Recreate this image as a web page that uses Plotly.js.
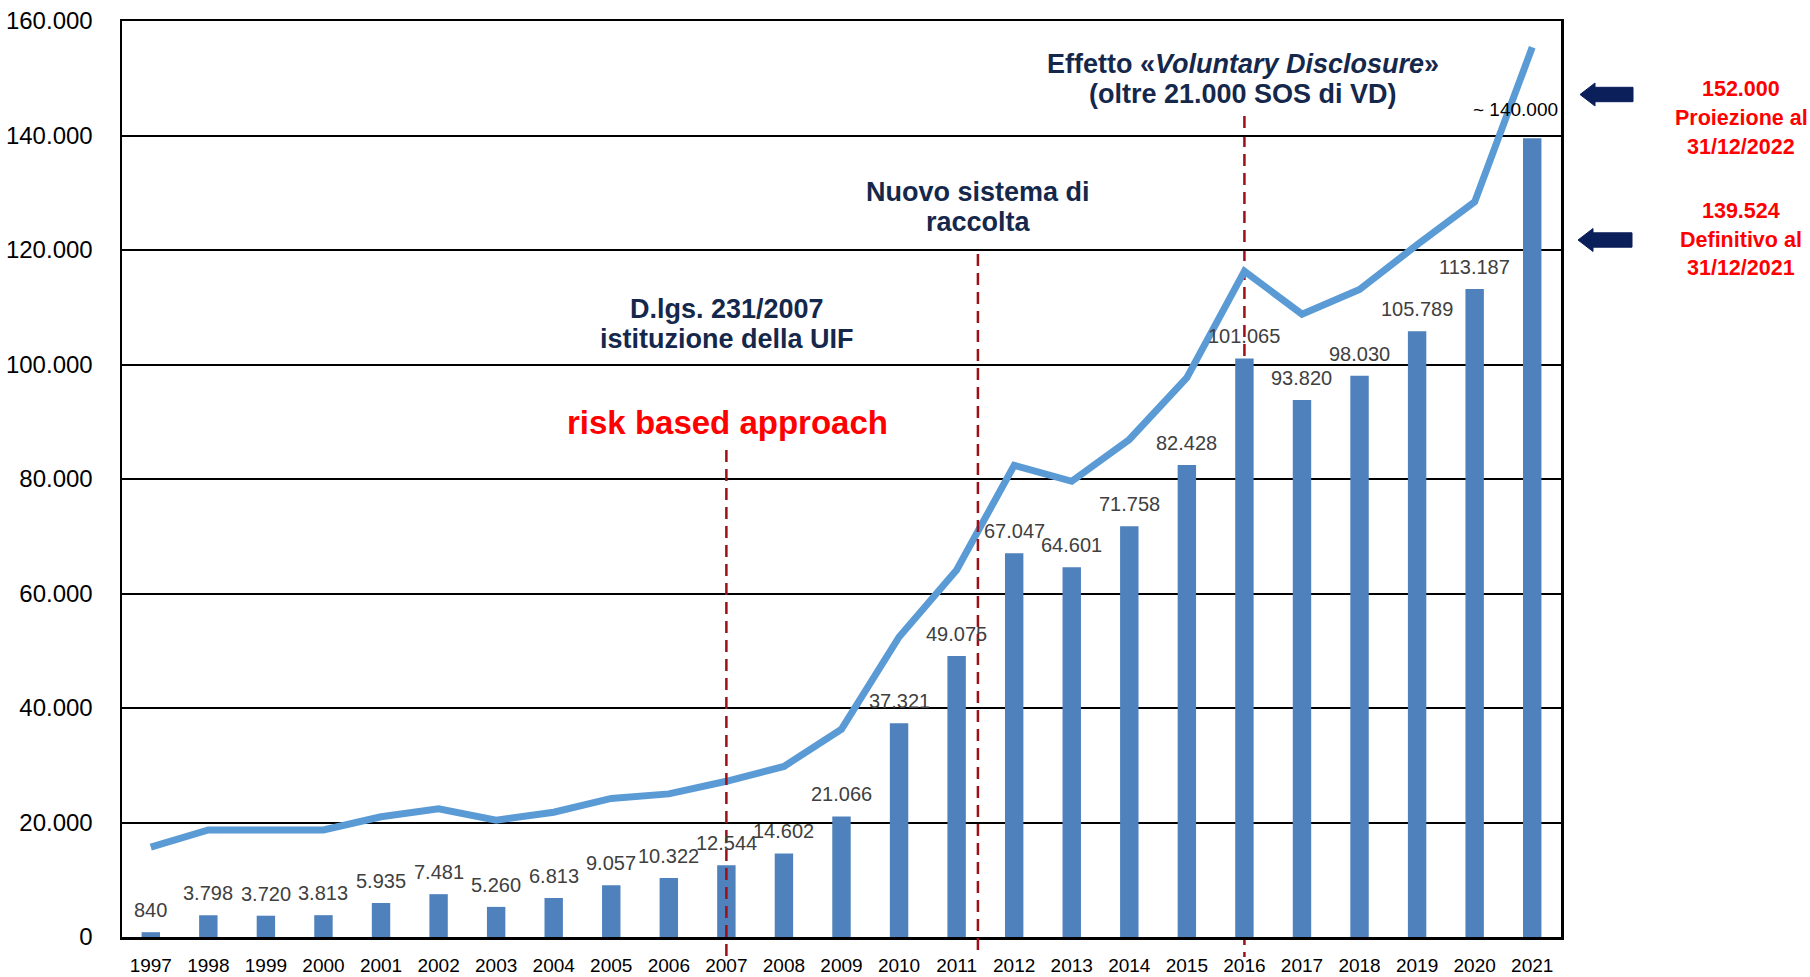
<!DOCTYPE html>
<html>
<head>
<meta charset="utf-8">
<script src="https://cdn.plot.ly/plotly-3.0.1.min.js"></script>
<style>
  html, body { margin: 0; padding: 0; background: #ffffff; }
  #chart { width: 1810px; height: 977px; }
</style>
</head>
<body>
<div id="chart"></div>
<script>
// ---------- data ----------
const years = ['1997','1998','1999','2000','2001','2002','2003','2004','2005','2006','2007','2008','2009',
               '2010','2011','2012','2013','2014','2015','2016','2017','2018','2019','2020','2021'];
const sosValues = [840, 3798, 3720, 3813, 5935, 7481, 5260, 6813, 9057, 10322, 12544, 14602, 21066,
                   37321, 49075, 67047, 64601, 71758, 82428, 101065, 93820, 98030, 105789, 113187, 139524];
const trendValues = [15700, 18700, 18700, 18700, 21000, 22400, 20400, 21800, 24200, 25000, 27200, 29800, 36300,
                     52400, 64100, 82400, 79600, 86900, 97700, 116300, 108800, 113100, 120900, 128400, 155400];
const yTicks = [0, 20000, 40000, 60000, 80000, 100000, 120000, 140000, 160000];
const approxLabel = '~ 140.000';
const projection = ['152.000', 'Proiezione al', '31/12/2022'];
const definitive = ['139.524', 'Definitivo al', '31/12/2021'];
const eventLines = [
  {x: 10, yTop: 450, layer: 'above'},      // 2007
  {x: 14.37, yTop: 254, layer: 'above'},   // between 2011 and 2012
  {x: 19, yTop: 116, layer: 'below'}       // 2016
];

// ---------- geometry helpers (pixel -> paper) ----------
const W = 1810, H = 977;
const M = {l: 122, r: 249, t: 21, b: 40};
const PW = W - M.l - M.r, PH = H - M.t - M.b;
const px = x => (x - M.l) / PW;
const py = y => (H - M.b - y) / PH;

function fmt(v) {
  return String(v).replace(/\B(?=(\d{3})+(?!\d))/g, '.');
}

const FONT = 'Liberation Sans, Arial, sans-serif';
const NAVY = '#15284b';

const barTrace = {
  type: 'bar', x: years, y: sosValues,
  marker: {color: '#4f81bd'},
  width: 0.32,
  hoverinfo: 'x+y'
};
const lineTrace = {
  type: 'scatter', mode: 'lines', x: years, y: trendValues,
  line: {color: '#5b9bd5', width: 7},
  hoverinfo: 'x+y'
};

const annotations = [];
// bar value labels (category index positions)
years.forEach((yr, i) => {
  if (i === years.length - 1) return;
  annotations.push({
    x: i, y: sosValues[i], xref: 'x', yref: 'y',
    text: fmt(sosValues[i]), showarrow: false,
    xanchor: 'center', yanchor: 'middle', yshift: 22,
    font: {family: FONT, size: 20, color: '#404040'}
  });
});
annotations.push({
  x: px(1515), y: py(110), xref: 'paper', yref: 'paper',
  text: approxLabel, showarrow: false, xanchor: 'center', yanchor: 'middle',
  font: {family: FONT, size: 19, color: '#000000'}
});
function textAt(text, x, y, size, color) {
  annotations.push({
    x: px(x), y: py(y), xref: 'paper', yref: 'paper',
    text: text, showarrow: false, xanchor: 'center', yanchor: 'middle',
    font: {family: FONT, size: size, color: color, weight: 'bold'}
  });
}
textAt('Effetto «<i>Voluntary Disclosure</i>»', 1243, 64, 27, NAVY);
textAt('(oltre 21.000 SOS di VD)', 1243, 94, 27, NAVY);
textAt('Nuovo sistema di', 978, 192, 27, NAVY);
textAt('raccolta', 978, 222, 27, NAVY);
textAt('D.lgs. 231/2007', 727, 309, 27, NAVY);
textAt('istituzione della UIF', 727, 339, 27, NAVY);
textAt('risk based approach', 727, 422, 33, '#ff0000');
const projY = [89, 118, 147];
projection.forEach((t, i) => textAt(t, 1741, projY[i], 21.5, '#ff0000'));
const defY = [211, 240, 268];
definitive.forEach((t, i) => textAt(t, 1741, defY[i], 21.5, '#ff0000'));

// shapes
const shapes = [];
eventLines.forEach(l => {
  shapes.push({
    type: 'line', xref: 'x', yref: 'paper',
    x0: l.x, x1: l.x, y0: py(l.yTop), y1: py(957),
    line: {color: '#9e0f18', width: 2.5, dash: '12px,7px'},
    layer: l.layer
  });
});
function arrow(tipX, tailX, cy) {
  const headLen = 15, headH = 11.5, shaftH = 7.2;
  const pts = [
    [tipX, cy], [tipX + headLen, cy - headH], [tipX + headLen, cy - shaftH],
    [tailX, cy - shaftH], [tailX, cy + shaftH], [tipX + headLen, cy + shaftH],
    [tipX + headLen, cy + headH]
  ];
  const path = 'M ' + pts.map(p => px(p[0]) + ',' + py(p[1])).join(' L ') + ' Z';
  shapes.push({type: 'path', xref: 'paper', yref: 'paper', path: path,
               fillcolor: '#0b1f5a', line: {color: '#0b1f5a', width: 1}});
}
arrow(1580, 1633, 94.5);
arrow(1578, 1632, 240);

const layout = {
  width: W, height: H,
  margin: M,
  paper_bgcolor: '#ffffff', plot_bgcolor: '#ffffff',
  showlegend: false,
  separators: ',.',
  bargap: 0.68,
  xaxis: {
    type: 'category', range: [-0.5, 24.5],
    showline: true, mirror: true, linecolor: '#000000', linewidth: 2.5,
    showgrid: false, ticks: '', ticklabelstandoff: 10,
    tickfont: {family: FONT, size: 19, color: '#000000'},
    fixedrange: true
  },
  yaxis: {
    range: [0, 160000], tickvals: yTicks, ticktext: yTicks.map(fmt),
    showline: true, mirror: true, linecolor: '#000000', linewidth: 2.5,
    showgrid: true, gridcolor: '#000000', gridwidth: 2, zeroline: false,
    ticks: '', ticklabelstandoff: 22,
    tickfont: {family: FONT, size: 24, color: '#000000'},
    fixedrange: true
  },
  annotations: annotations,
  shapes: shapes
};

Plotly.newPlot('chart', [barTrace, lineTrace], layout, {displayModeBar: false, staticPlot: true});
</script>
</body>
</html>
